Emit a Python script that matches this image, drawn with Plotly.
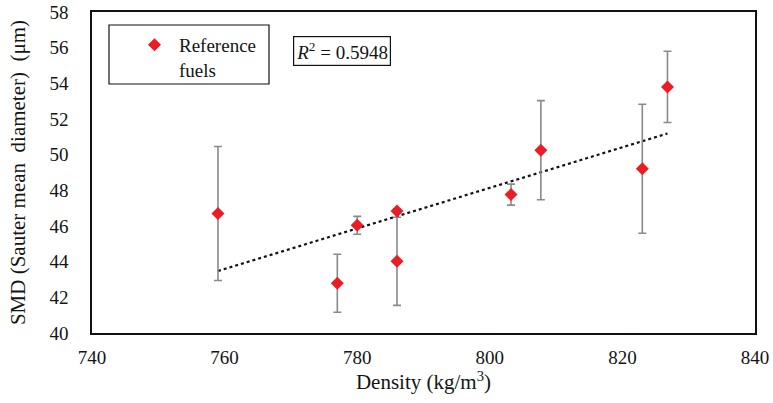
import numpy as np
import plotly.graph_objects as go

# Reference fuels: density vs Sauter mean diameter with error bars
density = [759.0, 777.0, 780.0, 786.0, 786.0, 803.2, 807.7, 823.0, 826.8]
smd = [46.70, 42.79, 46.04, 46.84, 44.02, 47.76, 50.25, 49.21, 53.80]
smd_err = [3.76, 1.63, 0.50, 0.12, 2.47, 0.59, 2.78, 3.62, 2.00]

x_ticks = [740, 760, 780, 800, 820, 840]
y_ticks = [40, 42, 44, 46, 48, 50, 52, 54, 56, 58]
r2_label = "0.5948"

FONT = "Liberation Serif"
INK = "#141414"

# plot area in pixels (for placing the legend frame and R² label)
L, R, T, B = 92, 18, 12, 70
W, H = 773, 403
PW, PH = W - L - R, H - T - B


def px_x(px):
    return (px - L) / PW


def px_y(py):
    return (H - B - py) / PH


# linear trendline over the data range
coef = np.polyfit(density, smd, 1)
trend_x = np.array([min(density), max(density)])
trend_y = np.polyval(coef, trend_x)

fig = go.Figure()

fig.add_trace(go.Scatter(
    x=trend_x, y=trend_y, mode="lines",
    line=dict(color="#111111", width=2.2, dash="dot"),
    showlegend=False, hoverinfo="skip",
))

fig.add_trace(go.Scatter(
    x=density, y=smd, mode="markers",
    name="Reference<br>fuels",
    marker=dict(symbol="diamond", size=10, color="#ec1c24"),
    error_y=dict(type="data", array=smd_err, visible=True,
                 color="#8a8a8a", thickness=1.6, width=4),
))

# legend frame
fig.add_shape(type="rect", xref="paper", yref="paper",
              x0=px_x(109), x1=px_x(269), y0=px_y(84), y1=px_y(25),
              line=dict(color="#111111", width=1.2), fillcolor="rgba(0,0,0,0)")

fig.add_annotation(
    xref="paper", yref="paper", x=px_x(342), y=px_y(51),
    xanchor="center", yanchor="middle",
    text="<i>R</i><sup>2</sup> = " + r2_label,
    showarrow=False, font=dict(family=FONT, size=19, color=INK),
    bordercolor="#111111", borderwidth=1.2, borderpad=2, bgcolor="white",
)

fig.update_layout(
    width=W, height=H,
    margin=dict(l=L, r=R, t=T, b=B),
    paper_bgcolor="white", plot_bgcolor="white",
    font=dict(family=FONT, size=19, color=INK),
    showlegend=True,
    legend=dict(
        x=px_x(130), y=px_y(26), xanchor="left", yanchor="top",
        bgcolor="rgba(0,0,0,0)", borderwidth=0, valign="top",
        font=dict(family=FONT, size=19, color=INK),
        itemwidth=39,
    ),
    xaxis=dict(
        range=[740, 840], tickvals=x_ticks, showgrid=False, zeroline=False,
        showline=True, linecolor="#111111", linewidth=1.5, mirror=True,
        ticks="", ticklabelstandoff=6, automargin=False,
        tickfont=dict(family=FONT, size=19, color=INK),
        title=dict(text="Density (kg/m<sup>3</sup>)", standoff=5,
                   font=dict(family=FONT, size=21, color=INK)),
    ),
    yaxis=dict(
        range=[40, 58], tickvals=y_ticks, showgrid=False, zeroline=False,
        showline=True, linecolor="#111111", linewidth=1.5, mirror=True,
        ticks="", ticklabelstandoff=18, automargin=False,
        tickfont=dict(family=FONT, size=19, color=INK),
        title=dict(text="SMD (Sauter mean  diameter)  (μm)", standoff=18,
                   font=dict(family=FONT, size=21, color=INK)),
    ),
)

fig.write_html("out.html")
